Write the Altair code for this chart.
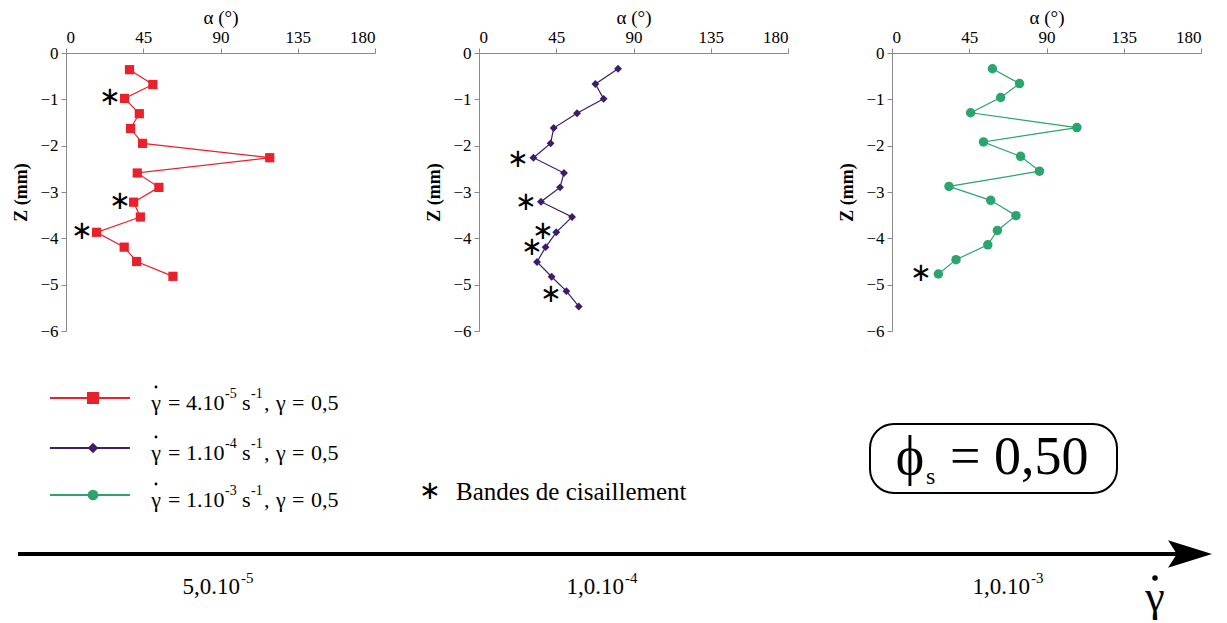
import altair as alt
import pandas as pd

FONT = "Liberation Serif, Times New Roman, Times, serif"

# ---------------- data ----------------
# Panel 1 : shear rate 4.10-5 s-1 (red squares)
red_alpha = [37.0, 50.6, 34.1, 42.7, 37.6, 44.6, 118.7, 41.5, 54.1, 39.4, 43.3, 17.8, 33.9, 41.1, 62.3]
red_z = [-0.36, -0.68, -0.98, -1.31, -1.63, -1.95, -2.26, -2.59, -2.90, -3.22, -3.54, -3.87, -4.19, -4.50, -4.82]
red_star_alpha = [25.8, 31.6, 9.3]
red_star_z = [-0.94, -3.19, -3.84]

# Panel 2 : shear rate 1.10-4 s-1 (purple diamonds)
purple_alpha = [81.0, 67.8, 72.6, 57.1, 43.5, 41.7, 31.7, 49.5, 47.2, 36.1, 54.2, 45.0, 38.8, 33.8, 42.3, 50.9, 58.1]
purple_z = [-0.34, -0.67, -0.99, -1.30, -1.62, -1.95, -2.26, -2.59, -2.90, -3.21, -3.54, -3.87, -4.19, -4.51, -4.83, -5.14, -5.47]
purple_star_alpha = [22.7, 27.6, 37.3, 31.1, 42.1]
purple_star_z = [-2.28, -3.22, -3.84, -4.18, -5.21]

# Panel 3 : shear rate 1.10-3 s-1 (green circles)
green_alpha = [58.5, 74.3, 63.3, 45.8, 107.7, 53.3, 74.9, 85.9, 33.2, 57.5, 72.2, 61.4, 55.8, 37.3, 27.0]
green_z = [-0.34, -0.66, -0.96, -1.29, -1.61, -1.92, -2.23, -2.55, -2.88, -3.18, -3.51, -3.83, -4.14, -4.46, -4.77]
green_star_alpha = [16.8]
green_star_z = [-4.75]

x_ticks = [0, 45, 90, 135, 180]
z_ticks = [0, -1, -2, -3, -4, -5, -6]

# legend text pieces: mantissa and exponent of each shear rate
legend_mantissa = ["4.10", "1.10", "1.10"]
legend_exponent = ["-5", "-4", "-3"]
legend_unit = "s"
legend_unit_exp = "-1"
legend_gamma_value = "0,5"
band_label = "Bandes de cisaillement"
rate_mantissa = ["5,0.10", "1,0.10", "1,0.10"]
rate_exponent = ["-5", "-4", "-3"]
phi_text = "= 0,50"

RED = "#E8212B"
PURPLE = "#3C1D6B"
GREEN = "#2BA470"
colors = [RED, PURPLE, GREEN]
shapes = ["square", "diamond", "circle"]
sizes = [85, 62, 90]
legend_sizes = [144, 110, 115]

PW, PH = 309, 278


def axes():
    x = alt.X(
        "alpha:Q",
        scale=alt.Scale(domain=[0, 180], nice=False, zero=False),
        axis=alt.Axis(orient="top", values=x_ticks, title="α (°)", labelPadding=2,
                      titlePadding=1, labelFont=FONT, titleFont=FONT, labelFontSize=17,
                      titleFontSize=19, titleFontWeight="normal"),
    )
    y = alt.Y(
        "z:Q",
        scale=alt.Scale(domain=[-6, 0], nice=False, zero=False),
        axis=alt.Axis(values=z_ticks, title="Z (mm)", titleFontWeight="bold",
                      labelPadding=3, titlePadding=9, labelFont=FONT, titleFont=FONT,
                      labelFontSize=17, titleFontSize=18),
    )
    return x, y


def panel(alpha, z, sa, sz, color, shape, size, extra=None):
    df = pd.DataFrame({"alpha": alpha, "z": z, "order": list(range(len(alpha)))})
    sdf = pd.DataFrame({"alpha": sa, "z": sz, "t": ["∗"] * len(sa)})
    x, y = axes()
    line = alt.Chart(df).mark_line(color=color, strokeWidth=1.2).encode(
        x=x, y=y, order=alt.Order("order:Q"))
    pts = alt.Chart(df).mark_point(shape=shape, filled=True, color=color, size=size,
                                   opacity=1).encode(x=x, y=y)
    stars = alt.Chart(sdf).mark_text(font=FONT, fontSize=26, color="black",
                                     baseline="middle", align="center").encode(
        x=x, y=y, text="t:N")
    layers = [line, pts, stars] + (extra or [])
    return alt.layer(*layers).properties(width=PW, height=PH)


# ---------------- annotations below the panels (pixel offsets from panel 1) ----------------
base = alt.Chart(pd.DataFrame({"d": [0]}))
ann = []


def txt(x, y, s, size, align="left", baseline="alphabetic"):
    return base.mark_text(font=FONT, fontSize=size, align=align, baseline=baseline,
                          color="black").encode(x=alt.value(x), y=alt.value(y),
                                                text=alt.value(s))


def dot(x, y, size):
    return base.mark_point(shape="circle", filled=True, color="black", size=size,
                           opacity=1).encode(x=alt.value(x), y=alt.value(y))


MAIN, SUP = 22, 14
legend_y = [345, 395, 442]
for i in range(3):
    ly = legend_y[i]
    bl = ly + 12
    ann.append(base.mark_rule(color=colors[i], strokeWidth=2).encode(
        x=alt.value(-16), x2=alt.value(64), y=alt.value(ly)))
    ann.append(base.mark_point(shape=shapes[i], filled=True, color=colors[i],
                               size=legend_sizes[i], opacity=1).encode(
        x=alt.value(27), y=alt.value(ly)))
    ann.append(txt(90, bl, "γ", MAIN, "center"))
    ann.append(dot(90, ly - 11, 8))
    ann.append(txt(102, bl, "=", MAIN))
    ann.append(txt(120, bl, legend_mantissa[i], MAIN))
    ann.append(txt(159, bl - 12, legend_exponent[i], SUP))
    ann.append(txt(176, bl, legend_unit, MAIN))
    ann.append(txt(185, bl - 12, legend_unit_exp, SUP))
    ann.append(txt(198, bl, ",", MAIN))
    ann.append(txt(210, bl, "γ", MAIN))
    ann.append(txt(226, bl, "=", MAIN))
    ann.append(txt(245, bl, legend_gamma_value, MAIN))

# shear band legend
ann.append(txt(364, 438, "∗", 26, "center", "middle"))
ann.append(txt(390, 447, band_label, 25, "left"))

# phi box
ann.append(base.mark_rect(fill="white", stroke="black", strokeWidth=2,
                          cornerRadius=24).encode(
    x=alt.value(804), x2=alt.value(1051), y=alt.value(371), y2=alt.value(440)))
ann.append(txt(844, 421, "ϕ", 54, "center"))
ann.append(txt(860, 431, "s", 24, "left"))
ann.append(txt(884, 421, phi_text, 54, "left"))

# arrow
ann.append(base.mark_rule(color="black", strokeWidth=4).encode(
    x=alt.value(-48), x2=alt.value(1112), y=alt.value(501)))
ann.append(base.mark_point(shape="M-1,-0.62L1,0L-1,0.62L-0.6,0Z", filled=True,
                           color="black", size=1936, opacity=1).encode(
    x=alt.value(1124), y=alt.value(501)))

rate_c = [152, 536, 942]
for i in range(3):
    ann.append(txt(rate_c[i] + 22, 541, rate_mantissa[i], 23, "right"))
    ann.append(txt(rate_c[i] + 23, 530, rate_exponent[i], 15, "left"))

ann.append(txt(1089, 558, "γ", 44, "center"))
ann.append(dot(1089, 525, 30))

p1 = panel(red_alpha, red_z, red_star_alpha, red_star_z, RED, "square", sizes[0], ann)
p2 = panel(purple_alpha, purple_z, purple_star_alpha, purple_star_z, PURPLE, "diamond", sizes[1])
p3 = panel(green_alpha, green_z, green_star_alpha, green_star_z, GREEN, "circle", sizes[2])

chart = alt.hconcat(p1, p2, p3, spacing=104, bounds="flush").properties(
    padding={"left": 4, "top": 0, "right": 0, "bottom": 0}
).configure_view(stroke=None).configure_axis(
    grid=False,
    domainColor="#8a8a8a",
    tickColor="#8a8a8a",
    tickSize=5,
    labelColor="black",
    titleColor="black",
)

chart.save("out.html", embed_options={"renderer": "svg", "actions": False})
